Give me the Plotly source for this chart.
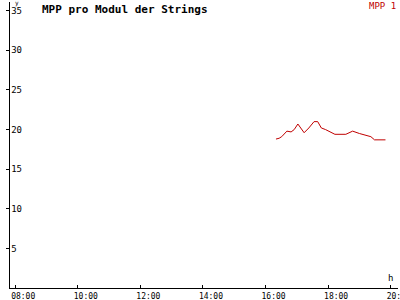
import plotly.graph_objects as go

times = ["16:20", "16:26", "16:31", "16:41", "16:49", "16:55", "17:02", "17:08",
         "17:14", "17:23", "17:33", "17:40", "17:47", "17:55", "18:05", "18:13",
         "18:34", "18:47", "19:00", "19:14", "19:22", "19:29", "19:50"]
values = [18.8, 18.9, 19.1, 19.8, 19.7, 20.0, 20.7, 20.1, 19.6, 20.2, 21.0, 21.0,
          20.2, 20.0, 19.7, 19.4, 19.4, 19.8, 19.5, 19.2, 19.1, 18.7, 18.7]
x_ticks = ["08:00", "10:00", "12:00", "14:00", "16:00", "18:00", "20:00"]
y_ticks = [5, 10, 15, 20, 25, 30, 35]
day = "2024-01-01 "

fig = go.Figure()
fig.add_trace(go.Scatter(
    x=[day + t for t in times], y=values, mode="lines",
    line=dict(color="#c00000", width=1), name="MPP 1", showlegend=False))

mono = "DejaVu Sans Mono"
fig.update_layout(
    width=400, height=300,
    margin=dict(l=10, r=2, t=2, b=12),
    paper_bgcolor="white", plot_bgcolor="white",
    font=dict(family=mono, size=9, color="black"),
    xaxis=dict(
        type="date", automargin=False,
        range=[day + "07:50", day + "20:14"],
        tickvals=[day + t for t in x_ticks], ticktext=x_ticks,
        showgrid=False, zeroline=False, showline=True, linecolor="black", linewidth=1,
        ticks="inside", ticklen=3, tickcolor="black",
        ticklabelshift=8, ticklabelstandoff=0,
        ticklabeloverflow="allow",
        tickfont=dict(family=mono, size=8, color="black"),
    ),
    yaxis=dict(
        automargin=False,
        range=[0, 36.1],
        tickvals=y_ticks,
        showgrid=False, zeroline=False, showline=True, linecolor="black", linewidth=1,
        ticks="outside", ticklen=3, tickcolor="black",
        ticklabelposition="inside", ticklabeloverflow="allow",
        tickfont=dict(family=mono, size=9, color="black"),
    ),
    annotations=[
        dict(text="<b>MPP pro Modul der Strings</b>", xref="paper", yref="paper",
             x=0.077, y=1.005, xanchor="left", yanchor="top", showarrow=False,
             font=dict(family=mono, size=11, color="black")),
        dict(text="MPP 1", xref="paper", yref="paper", x=1.0, y=1.01,
             xanchor="right", yanchor="top", showarrow=False,
             font=dict(family=mono, size=9, color="#c00000")),
        dict(text="y", xref="paper", yref="paper", x=0.008, y=1.0,
             xanchor="left", yanchor="bottom", yshift=-7, showarrow=False,
             font=dict(family=mono, size=6, color="black")),
        dict(text="h", xref="paper", yref="paper", x=0.968, y=0.01,
             xanchor="left", yanchor="bottom", showarrow=False,
             font=dict(family=mono, size=9, color="black")),
    ],
)
fig.write_html("out.html")
